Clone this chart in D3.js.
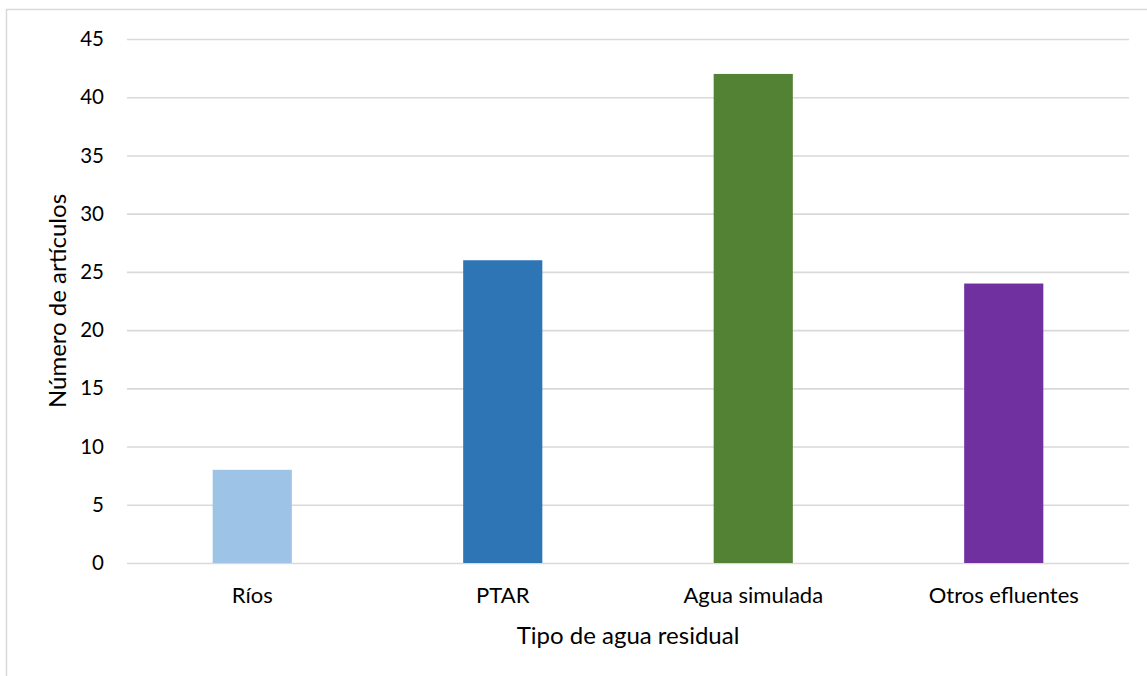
<!DOCTYPE html>
<html><head><meta charset="utf-8">
<script src="https://cdn.jsdelivr.net/npm/d3@7"></script>
<style>html,body{margin:0;padding:0;background:#fff;}svg{display:block;}</style>
</head><body>
<svg id="chart" width="1147" height="676"></svg>
<script>
const categories = ["Ríos", "PTAR", "Agua simulada", "Otros efluentes"];
const values = [8, 26, 42, 24];
const colors = ["#9DC3E6", "#2E75B6", "#548235", "#7030A0"];
const yTicks = [0, 5, 10, 15, 20, 25, 30, 35, 40, 45];
const xTitle = "Tipo de agua residual";
const yTitle = "Número de artículos";

const W = 1147, H = 676;
const m = {left: 127, right: 18, top: 39, bottom: 113};
const font = "Lato, Carlito, Calibri, sans-serif";
const svg = d3.select("#chart");

svg.append("rect").attr("x", 6.5).attr("y", 9.5).attr("width", 1150).attr("height", 680)
  .attr("fill", "#fff").attr("stroke", "#d9d9d9").attr("stroke-width", 1.5);

const x = d3.scaleBand().domain(categories).range([m.left, W - m.right]).padding(0);
const y = d3.scaleLinear().domain([0, 45]).range([H - m.bottom, m.top]);

const yAxis = d3.axisLeft(y).tickValues(yTicks).tickSize(-(W - m.right - m.left)).tickPadding(23);
const gy = svg.append("g").attr("transform", `translate(${m.left},0)`).call(yAxis);
gy.select(".domain").remove();
gy.selectAll(".tick line").attr("stroke", "#d9d9d9").attr("stroke-width", 1.6);
gy.selectAll(".tick text").attr("font-family", font).attr("font-size", 20.5).attr("fill", "#000");

const bw = x.bandwidth() * 0.316;
svg.append("g").selectAll("rect").data(categories).join("rect")
  .attr("x", (d) => x(d) + x.bandwidth() / 2 - bw / 2)
  .attr("width", bw)
  .attr("y", (d, i) => y(values[i]))
  .attr("height", (d, i) => y(0) - y(values[i]))
  .attr("fill", (d, i) => colors[i]);

const xAxis = d3.axisBottom(x).tickSize(0).tickPadding(24);
const gx = svg.append("g").attr("transform", `translate(0,${y(0)})`).call(xAxis);
gx.select(".domain").remove();
gx.selectAll(".tick text").attr("font-family", font).attr("font-size", 22).attr("fill", "#000");

svg.append("text").attr("x", (m.left + W - m.right) / 2).attr("y", 644)
  .attr("text-anchor", "middle").attr("font-family", font).attr("font-size", 24).attr("fill", "#000")
  .text(xTitle);

svg.append("text").attr("transform", `translate(66,${(y(0) + y(45)) / 2}) rotate(-90)`)
  .attr("text-anchor", "middle").attr("font-family", font).attr("font-size", 24).attr("fill", "#000")
  .text(yTitle);
</script>
</body></html>
